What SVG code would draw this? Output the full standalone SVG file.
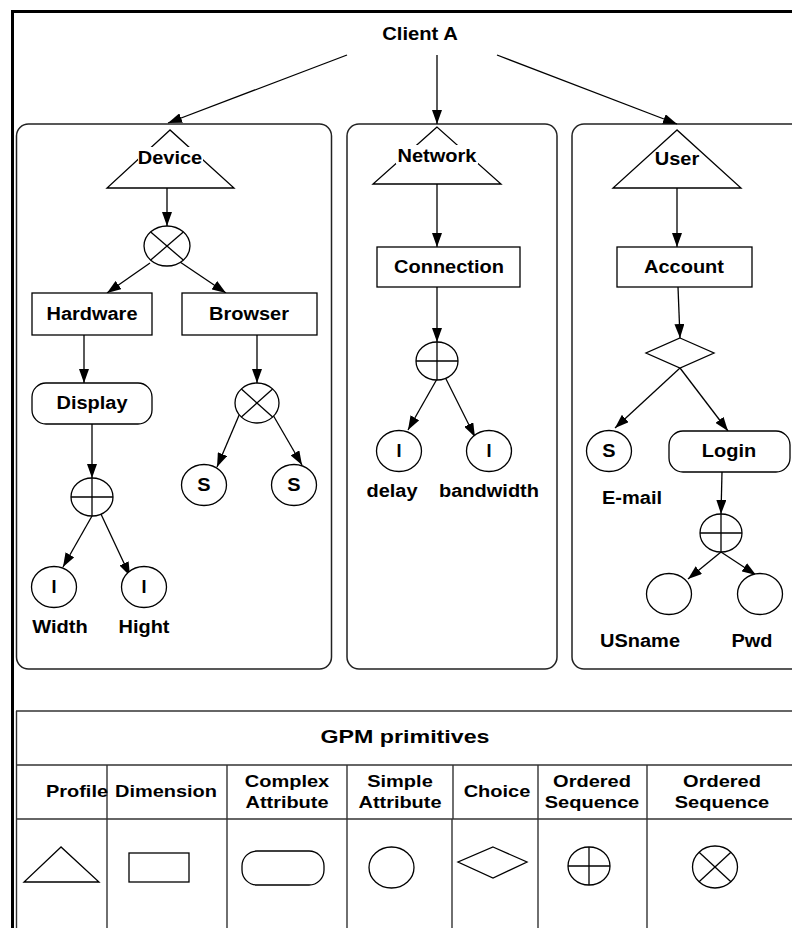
<svg xmlns="http://www.w3.org/2000/svg" width="792" height="928" viewBox="0 0 792 928">
<defs>
<style>
.sh{fill:#fff;stroke:#000;stroke-width:1.3}
.pn{fill:none;stroke:#222;stroke-width:1.5}
.ln{fill:none;stroke:#000;stroke-width:1.3}
.ar{fill:none;stroke:#000;stroke-width:1.3;marker-end:url(#ah)}
.t{font-family:"Liberation Sans",Arial,sans-serif;font-weight:bold;font-size:18px;text-anchor:middle;fill:#000}
.h{font-size:17px}
.tb{fill:#fff;stroke:none}
.tl{fill:none;stroke:#333;stroke-width:1.4}
</style>
<marker id="ah" markerUnits="userSpaceOnUse" markerWidth="14" markerHeight="10" refX="14" refY="5" orient="auto">
<path d="M0,0 L14,5 L0,10 z" fill="#000"/>
</marker>
</defs>
<rect width="792" height="928" fill="#fff"/>
<g id="frame">
<line x1="11" y1="11.5" x2="792" y2="11.5" stroke="#000" stroke-width="3"/>
<line x1="12.5" y1="10" x2="12.5" y2="928" stroke="#000" stroke-width="3"/>
</g>
<g id="panels">
<rect class="pn" x="16.5" y="124" width="315" height="545" rx="12"/>
<rect class="pn" x="347" y="124" width="210" height="545" rx="12"/>
<rect class="pn" x="572" y="124" width="232" height="545" rx="12"/>
</g>
<g id="connectors">
<line class="ar" x1="347" y1="55" x2="168" y2="123"/>
<line class="ar" x1="437" y1="55" x2="437" y2="124"/>
<line class="ar" x1="497" y1="55" x2="677" y2="124"/>
<line class="ar" x1="167" y1="188" x2="167" y2="226"/>
<line class="ar" x1="150" y1="263" x2="107" y2="293"/>
<line class="ar" x1="180" y1="262" x2="226" y2="293"/>
<line class="ar" x1="84" y1="335" x2="84" y2="383"/>
<line class="ar" x1="92" y1="424" x2="92" y2="478"/>
<line class="ar" x1="92" y1="516" x2="63" y2="567"/>
<line class="ar" x1="100" y1="512" x2="130" y2="576"/>
<line class="ar" x1="257" y1="335" x2="257" y2="383"/>
<line class="ar" x1="240" y1="413" x2="217" y2="467"/>
<line class="ar" x1="273" y1="415" x2="302" y2="465"/>
<line class="ar" x1="437" y1="184" x2="437" y2="247"/>
<line class="ar" x1="437" y1="287" x2="437" y2="342"/>
<line class="ar" x1="437" y1="379" x2="408" y2="430"/>
<line class="ar" x1="445" y1="377" x2="475" y2="437"/>
<line class="ar" x1="677" y1="188" x2="677" y2="247"/>
<line class="ar" x1="678" y1="287" x2="680" y2="338"/>
<line class="ar" x1="680" y1="368" x2="615" y2="428"/>
<line class="ar" x1="680" y1="368" x2="728" y2="431"/>
<line class="ar" x1="722" y1="472" x2="721" y2="514"/>
<line class="ar" x1="721" y1="552" x2="688" y2="579"/>
<line class="ar" x1="721" y1="552" x2="756" y2="575"/>
</g>
<g id="client-a"><text class="t" x="420" y="40" textLength="75.6" lengthAdjust="spacingAndGlyphs">Client A</text></g>
<g id="device">
<polygon class="sh" points="170,130 107,188 234,188"/>
<rect class="tb" x="138" y="147" width="65" height="18"/>
<text class="t" x="170" y="164" textLength="64.5" lengthAdjust="spacingAndGlyphs">Device</text>
</g>
<g id="device-seq">
<ellipse class="sh" cx="167" cy="246" rx="23" ry="20"/>
<line class="ln" x1="150.7" y1="231.9" x2="183.3" y2="260.1"/>
<line class="ln" x1="183.3" y1="231.9" x2="150.7" y2="260.1"/>
</g>
<g id="hardware"><rect class="sh" x="32" y="293" width="120" height="42"/><text class="t" x="92" y="320" textLength="91" lengthAdjust="spacingAndGlyphs">Hardware</text></g>
<g id="browser"><rect class="sh" x="182" y="293" width="135" height="42"/><text class="t" x="249" y="320" textLength="80" lengthAdjust="spacingAndGlyphs">Browser</text></g>
<g id="display"><rect class="sh" x="32" y="383" width="120" height="41" rx="14"/><text class="t" x="92" y="409" textLength="71" lengthAdjust="spacingAndGlyphs">Display</text></g>
<g id="display-seq">
<ellipse class="sh" cx="92" cy="497" rx="21" ry="19"/>
<line class="ln" x1="71" y1="497" x2="113" y2="497"/>
<line class="ln" x1="92" y1="478" x2="92" y2="516"/>
</g>
<g id="width"><ellipse class="sh" cx="54" cy="587" rx="22.5" ry="20.5"/><text class="t" x="54" y="593">I</text><text class="t" x="60" y="633" textLength="55.5" lengthAdjust="spacingAndGlyphs">Width</text></g>
<g id="hight"><ellipse class="sh" cx="144" cy="587" rx="22.5" ry="20.5"/><text class="t" x="144" y="593">I</text><text class="t" x="144" y="633" textLength="51" lengthAdjust="spacingAndGlyphs">Hight</text></g>
<g id="browser-seq">
<ellipse class="sh" cx="257" cy="403" rx="22" ry="20"/>
<line class="ln" x1="241.4" y1="388.9" x2="272.6" y2="417.1"/>
<line class="ln" x1="272.6" y1="388.9" x2="241.4" y2="417.1"/>
</g>
<g id="s1"><ellipse class="sh" cx="204" cy="485" rx="22.5" ry="20.5"/><text class="t" x="204" y="491" textLength="13.3" lengthAdjust="spacingAndGlyphs">S</text></g>
<g id="s2"><ellipse class="sh" cx="294" cy="485" rx="22.5" ry="20.5"/><text class="t" x="294" y="491" textLength="13.3" lengthAdjust="spacingAndGlyphs">S</text></g>
<g id="network">
<polygon class="sh" points="437,127 373,184 501,184"/>
<rect class="tb" x="396" y="145" width="82" height="19"/>
<text class="t" x="437" y="162" textLength="79" lengthAdjust="spacingAndGlyphs">Network</text>
</g>
<g id="connection"><rect class="sh" x="377" y="247" width="143" height="40"/><text class="t" x="449" y="273" textLength="110" lengthAdjust="spacingAndGlyphs">Connection</text></g>
<g id="connection-seq">
<ellipse class="sh" cx="437" cy="361" rx="21" ry="19"/>
<line class="ln" x1="416" y1="361" x2="458" y2="361"/>
<line class="ln" x1="437" y1="342" x2="437" y2="380"/>
</g>
<g id="delay"><ellipse class="sh" cx="399" cy="451" rx="22.5" ry="20.5"/><text class="t" x="399" y="457">I</text><text class="t" x="392" y="497" textLength="51" lengthAdjust="spacingAndGlyphs">delay</text></g>
<g id="bandwidth"><ellipse class="sh" cx="489" cy="451" rx="22.5" ry="20.5"/><text class="t" x="489" y="457">I</text><text class="t" x="489" y="497" textLength="100" lengthAdjust="spacingAndGlyphs">bandwidth</text></g>
<g id="user">
<polygon class="sh" points="677,130 613,188 741,188"/>
<rect class="tb" x="655" y="151" width="44" height="16"/>
<text class="t" x="677" y="165" textLength="44.5" lengthAdjust="spacingAndGlyphs">User</text>
</g>
<g id="account"><rect class="sh" x="617" y="247" width="135" height="40"/><text class="t" x="684" y="273" textLength="80" lengthAdjust="spacingAndGlyphs">Account</text></g>
<g id="choice"><polygon class="sh" points="680,338 714,353 680,368 646,353"/></g>
<g id="email"><ellipse class="sh" cx="609" cy="451" rx="22.5" ry="20.5"/><text class="t" x="609" y="457" textLength="13.3" lengthAdjust="spacingAndGlyphs">S</text><text class="t" x="632" y="504" textLength="60" lengthAdjust="spacingAndGlyphs">E-mail</text></g>
<g id="login"><rect class="sh" x="669" y="431" width="121" height="41" rx="14"/><text class="t" x="729" y="457" textLength="54.4" lengthAdjust="spacingAndGlyphs">Login</text></g>
<g id="login-seq">
<ellipse class="sh" cx="721" cy="533" rx="21" ry="19"/>
<line class="ln" x1="700" y1="533" x2="742" y2="533"/>
<line class="ln" x1="721" y1="514" x2="721" y2="552"/>
</g>
<g id="usname"><ellipse class="sh" cx="669" cy="594" rx="22.5" ry="20.5"/><text class="t" x="640" y="647" textLength="80" lengthAdjust="spacingAndGlyphs">USname</text></g>
<g id="pwd"><ellipse class="sh" cx="760" cy="594" rx="22.5" ry="20.5"/><text class="t" x="752" y="647" textLength="41" lengthAdjust="spacingAndGlyphs">Pwd</text></g>
<g id="legend">
<line class="tl" x1="16" y1="711" x2="792" y2="711"/>
<line class="tl" x1="16.5" y1="711" x2="16.5" y2="928"/>
<line class="tl" x1="16" y1="765" x2="792" y2="765"/>
<line class="tl" x1="16" y1="819" x2="792" y2="819"/>
<line class="tl" x1="107" y1="765" x2="107" y2="928"/>
<line class="tl" x1="227" y1="765" x2="227" y2="928"/>
<line class="tl" x1="347" y1="765" x2="347" y2="928"/>
<line class="tl" x1="453" y1="765" x2="453" y2="819"/>
<line class="tl" x1="452" y1="819" x2="452" y2="928"/>
<line class="tl" x1="538" y1="765" x2="538" y2="928"/>
<line class="tl" x1="647" y1="765" x2="647" y2="928"/>
<text class="t" x="405" y="743" style="font-size:19px" textLength="169" lengthAdjust="spacingAndGlyphs">GPM primitives</text>
<text class="t h" x="77" y="797" textLength="62" lengthAdjust="spacingAndGlyphs">Profile</text>
<text class="t h" x="166" y="797" textLength="102" lengthAdjust="spacingAndGlyphs">Dimension</text>
<text class="t h" x="287" y="787" textLength="84.5" lengthAdjust="spacingAndGlyphs">Complex</text>
<text class="t h" x="287" y="808" textLength="83" lengthAdjust="spacingAndGlyphs">Attribute</text>
<text class="t h" x="400" y="787" textLength="65.6" lengthAdjust="spacingAndGlyphs">Simple</text>
<text class="t h" x="400" y="808" textLength="83" lengthAdjust="spacingAndGlyphs">Attribute</text>
<text class="t h" x="497" y="797" textLength="66.7" lengthAdjust="spacingAndGlyphs">Choice</text>
<text class="t h" x="592" y="787" textLength="77.8" lengthAdjust="spacingAndGlyphs">Ordered</text>
<text class="t h" x="592" y="808" textLength="94.5" lengthAdjust="spacingAndGlyphs">Sequence</text>
<text class="t h" x="722" y="787" textLength="77.8" lengthAdjust="spacingAndGlyphs">Ordered</text>
<text class="t h" x="722" y="808" textLength="94.5" lengthAdjust="spacingAndGlyphs">Sequence</text>
<polygon class="sh" points="61,847 24,882 99,882"/>
<rect class="sh" x="129" y="853" width="60" height="29"/>
<rect class="sh" x="242" y="851" width="82" height="34" rx="15"/>
<ellipse class="sh" cx="391.5" cy="867.5" rx="22.5" ry="20.5"/>
<polygon class="sh" points="493,847 527,862 493,878 458,862"/>
<ellipse class="sh" cx="589" cy="866" rx="21" ry="19"/>
<line class="ln" x1="568" y1="866" x2="610" y2="866"/>
<line class="ln" x1="589" y1="847" x2="589" y2="885"/>
<ellipse class="sh" cx="715" cy="867" rx="22.5" ry="21"/>
<line class="ln" x1="699.1" y1="852.2" x2="730.9" y2="881.8"/>
<line class="ln" x1="730.9" y1="852.2" x2="699.1" y2="881.8"/>
</g>
</svg>
